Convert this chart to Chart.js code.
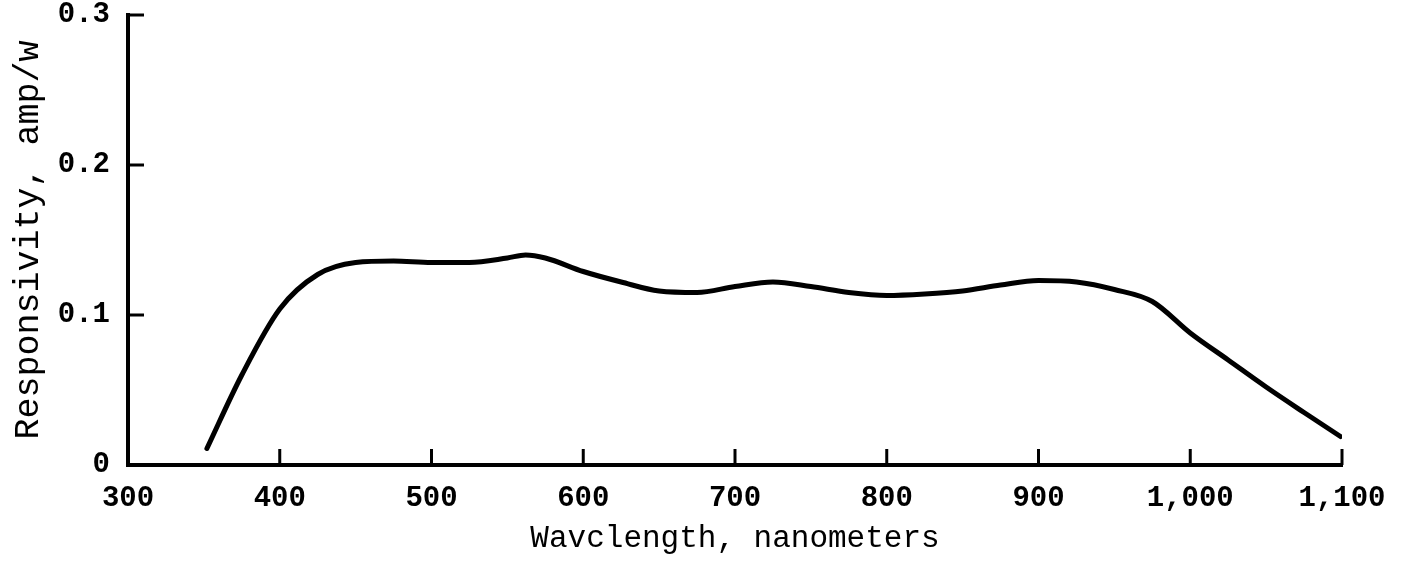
<!DOCTYPE html>
<html>
<head>
<meta charset="utf-8">
<script src="https://cdn.jsdelivr.net/npm/chart.js@4.4.0/dist/chart.umd.min.js"></script>
<style>
  html, body { margin: 0; padding: 0; background: #fff; }
  #wrap { width: 1403px; height: 587px; }
</style>
</head>
<body>
<div id="wrap"><canvas id="chart"></canvas></div>
<script>
// wavelength (nm) and responsivity (amp/w)
const wavelengths = [352, 375, 400, 425, 450, 475, 500, 525, 550, 562, 575, 600, 625, 650, 675, 700,
                     725, 750, 775, 800, 825, 850, 875, 900, 925, 950, 975, 1000, 1025, 1050, 1075, 1099];
const responsivity = [0.011, 0.060, 0.104, 0.127, 0.135, 0.136, 0.135, 0.135, 0.138, 0.140, 0.138, 0.129,
                      0.122, 0.116, 0.115, 0.119, 0.122, 0.119, 0.115, 0.113, 0.114, 0.116, 0.120,
                      0.123, 0.122, 0.117, 0.109, 0.088, 0.070, 0.052, 0.035, 0.019];
const xTicks = [300, 400, 500, 600, 700, 800, 900, 1000, 1100];
const yTicks = [0, 0.1, 0.2, 0.3];

const FONT = "'Liberation Mono', 'DejaVu Sans Mono', monospace";

// ticks on this chart point inward, so draw them ourselves from the scales
const inwardTicks = {
    id: 'inwardTicks',
    afterDraw(chart) {
        const ctx = chart.ctx;
        const xs = chart.scales.x, ys = chart.scales.y;
        const len = 16;
        ctx.save();
        ctx.strokeStyle = '#000';
        ctx.lineWidth = 3;
        xTicks.slice(1).forEach(v => {
            const px = xs.getPixelForValue(v);
            ctx.beginPath();
            ctx.moveTo(px, ys.bottom);
            ctx.lineTo(px, ys.bottom - len);
            ctx.stroke();
        });
        yTicks.slice(1).forEach(v => {
            const py = ys.getPixelForValue(v);
            ctx.beginPath();
            ctx.moveTo(xs.left, py);
            ctx.lineTo(xs.left + len, py);
            ctx.stroke();
        });
        ctx.restore();
    }
};

new Chart(document.getElementById('chart'), {
    type: 'line',
    data: {
        datasets: [{
            data: wavelengths.map((w, i) => ({x: w, y: responsivity[i]})),
            borderColor: '#000',
            borderWidth: 5,
            borderCapStyle: 'round',
            pointRadius: 0,
            cubicInterpolationMode: 'monotone',
            fill: false
        }]
    },
    options: {
        responsive: true,
        maintainAspectRatio: false,
        animation: false,
        layout: {padding: {top: 15, right: 61, left: 0, bottom: 0}},
        plugins: {legend: {display: false}, tooltip: {enabled: false}},
        scales: {
            x: {
                type: 'linear',
                min: 300,
                max: 1100,
                afterBuildTicks: s => { s.ticks = xTicks.map(v => ({value: v})); },
                afterFit: s => { s.height = 122; s.paddingLeft = 0; s.paddingRight = 0; },
                grid: {display: false, drawTicks: false},
                border: {display: true, color: '#000', width: 4},
                ticks: {
                    color: '#000',
                    font: {family: FONT, size: 29, weight: 'bold'},
                    padding: 16,
                    maxRotation: 0,
                    callback: v => v.toLocaleString('en-US')
                },
                title: {
                    display: true,
                    text: 'Wavclength, nanometers',
                    color: '#000',
                    font: {family: FONT, size: 31},
                    padding: {top: 0, bottom: 30}
                }
            },
            y: {
                min: 0,
                max: 0.3,
                afterBuildTicks: s => { s.ticks = yTicks.map(v => ({value: v})); },
                afterFit: s => { s.width = 128; s.paddingTop = 0; s.paddingBottom = 0; },
                grid: {display: false, drawTicks: false},
                border: {display: true, color: '#000', width: 4},
                ticks: {
                    color: '#000',
                    font: {family: FONT, size: 29, weight: 'bold'},
                    padding: 18
                },
                title: {
                    display: true,
                    text: 'Responsivity, amp/w',
                    color: '#000',
                    font: {family: FONT, size: 35},
                    padding: {top: 8, bottom: 0}
                }
            }
        }
    },
    plugins: [inwardTicks]
});
</script>
</body>
</html>
